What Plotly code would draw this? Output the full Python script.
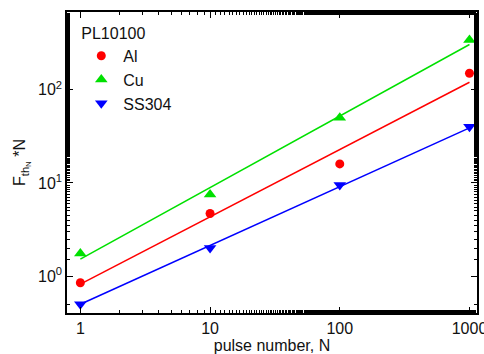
import plotly.graph_objects as go

pulses = [1, 10, 100, 1000]
al = [0.85, 4.7, 16, 150]
cu = [1.75, 7.5, 50, 340]
ss = [0.5, 2.0, 9.5, 40]

fit_x = [1, 1000]
al_fit = [0.82, 120]
cu_fit = [1.52, 305]
ss_fit = [0.50, 39]

red, green, blue = "#ff0000", "#00e000", "#0000ff"

fig = go.Figure()
for name, ys, fy, col, sym, sz in [
    ("Al", al, al_fit, red, "circle", 9),
    ("Cu", cu, cu_fit, green, "triangle-up", 11),
    ("SS304", ss, ss_fit, blue, "triangle-down", 11),
]:
    fig.add_trace(go.Scatter(x=fit_x, y=fy, mode="lines", line=dict(color=col, width=1.5),
                             showlegend=False, hoverinfo="skip"))
    fig.add_trace(go.Scatter(x=pulses, y=ys, mode="markers", name=name,
                             marker=dict(color=col, symbol=sym, size=sz)))

axis_common = dict(type="log", showgrid=False, zeroline=False, showline=True, linecolor="black",
                   linewidth=1.5, mirror="allticks", ticks="inside", ticklen=6, tickwidth=1,
                   tickcolor="black", automargin=False, ticklabeloverflow="allow",
                   minor=dict(ticks="inside", ticklen=3, tickcolor="black", tickwidth=1),
                   tickfont=dict(size=16, color="#111"))

fig.update_layout(
    width=484, height=354,
    margin=dict(l=67, r=7, t=12, b=41),
    paper_bgcolor="white", plot_bgcolor="white",
    font=dict(family="Liberation Sans, Arial, sans-serif", color="#111", size=16),
    xaxis=dict(**axis_common, range=[-0.103, 3.058], tickvals=[1, 10, 100, 1000],
               ticktext=["1", "10", "100", "1000"],
               title=dict(text="pulse number, N", standoff=0, font=dict(size=16))),
    yaxis=dict(**axis_common, range=[-0.395, 2.833], tickvals=[1, 10, 100],
               ticktext=["10<sup>0</sup>", "10<sup>1</sup>", "10<sup>2</sup>"],
               title=dict(text="F<sub>th<sub>N</sub></sub> *N", standoff=8, font=dict(size=16))),
    legend=dict(x=0.03, y=0.98, xanchor="left", yanchor="top", bgcolor="rgba(0,0,0,0)",
                title=dict(text="PL10100", font=dict(size=16)), font=dict(size=16),
                itemwidth=34, tracegroupgap=0),
)

fig.write_html("out.html")
